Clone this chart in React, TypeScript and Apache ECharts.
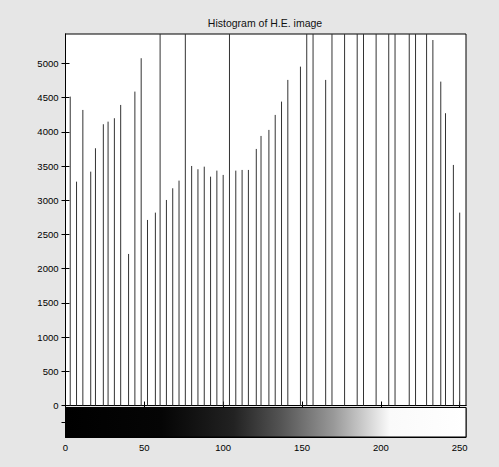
import React, { useEffect, useRef } from 'react';
import * as echarts from 'echarts';

const titleText = 'Histogram of H.E. image';

// gray levels present in the equalized image
const levels = [
  3, 7, 11, 16, 19, 24, 27, 31, 35, 40, 44, 48, 52, 57, 60, 64, 68, 72, 76, 80,
  84, 88, 92, 96, 100, 104, 108, 112, 116, 121, 124, 129, 133, 137, 141, 149, 153, 157, 165, 169,
  177, 185, 189, 197, 205, 209, 218, 222, 229, 233, 238, 241, 246, 250,
];

// pixel counts for each level (values above the axis top are clipped)
const counts = [
  4515, 3272, 4320, 3418, 3760, 4111, 4149, 4199, 4393, 2215, 4588, 5076, 2712, 2819, 6000, 3004, 3175, 3287, 6000, 3501,
  3453, 3491, 3345, 3433, 3370, 6000, 3433, 3443, 3443, 3750, 3940, 4028, 4247, 4442, 4759, 4953, 6000, 6000, 4759, 6000,
  6000, 6000, 6000, 6000, 6000, 6000, 6000, 6000, 6000, 5342, 4734, 4272, 3516, 2819,
];

const yTicks = [0, 500, 1000, 1500, 2000, 2500, 3000, 3500, 4000, 4500, 5000];
const xTicks = [0, 50, 100, 150, 200, 250];

const Y_MAX = 5430;
const X_MAX = 254;

export default function App() {
  const ref = useRef<HTMLDivElement>(null);

  useEffect(() => {
    if (!ref.current) return;
    const chart = echarts.init(ref.current, null, { renderer: 'svg' });
    const font = "'Liberation Sans', Arial, Helvetica, sans-serif";
    const tickStyle = { color: '#000', width: 1 };
    const plain = (v: number) => String(v);

    const option: any = {
      animation: false,
      backgroundColor: '#e6e6e6',
      textStyle: { fontFamily: font },
      graphic: [
        {
          type: 'text',
          x: 265,
          y: 23,
          style: {
            text: titleText,
            fontSize: 10.5,
            fontFamily: font,
            fill: '#111',
            textAlign: 'center',
            textVerticalAlign: 'middle',
          },
        },
      ],
      grid: [
        { left: 65.5, top: 34, width: 400.5, height: 371.5, show: true, backgroundColor: '#fff', borderColor: '#000', borderWidth: 1 },
        { left: 65.5, top: 407.5, width: 400.5, height: 29.5, show: true, backgroundColor: '#fff', borderColor: '#000', borderWidth: 1 },
      ],
      xAxis: [
        {
          type: 'value', gridIndex: 0, min: 0, max: X_MAX, position: 'bottom',
          axisLine: { show: true, lineStyle: tickStyle },
          axisTick: { show: true, inside: true, length: 4, customValues: xTicks, lineStyle: tickStyle },
          axisLabel: { show: false },
          splitLine: { show: false },
        },
        {
          type: 'value', gridIndex: 0, min: 0, max: X_MAX, position: 'top',
          axisLine: { show: true, lineStyle: tickStyle },
          axisTick: { show: true, inside: true, length: 4, customValues: xTicks, lineStyle: tickStyle },
          axisLabel: { show: false },
          splitLine: { show: false },
        },
        {
          type: 'value', gridIndex: 1, min: 0, max: X_MAX, position: 'bottom',
          axisLine: { show: true, lineStyle: tickStyle },
          axisTick: { show: true, inside: true, length: 4, customValues: xTicks, lineStyle: tickStyle },
          axisLabel: { show: true, customValues: xTicks, fontSize: 9.5, color: '#000', margin: 5, fontFamily: font, formatter: plain },
          splitLine: { show: false },
        },
      ],
      yAxis: [
        {
          type: 'value', gridIndex: 0, min: 0, max: Y_MAX, position: 'left',
          axisLine: { show: true, lineStyle: tickStyle },
          axisTick: { show: true, inside: true, length: 4, customValues: yTicks, lineStyle: tickStyle },
          axisLabel: { show: true, customValues: yTicks, fontSize: 9.5, color: '#000', margin: 7, fontFamily: font, formatter: plain },
          splitLine: { show: false },
        },
        {
          type: 'value', gridIndex: 0, min: 0, max: Y_MAX, position: 'right',
          axisLine: { show: true, lineStyle: tickStyle },
          axisTick: { show: true, inside: true, length: 4, customValues: yTicks, lineStyle: tickStyle },
          axisLabel: { show: false },
          splitLine: { show: false },
        },
        {
          type: 'value', gridIndex: 1, min: 0, max: 1, position: 'right',
          axisLine: { show: true, lineStyle: tickStyle },
          axisTick: { show: true, inside: true, length: 4, customValues: [0.5], lineStyle: tickStyle },
          axisLabel: { show: false },
          splitLine: { show: false },
        },
      ],
      series: [
        {
          type: 'custom',
          xAxisIndex: 0,
          yAxisIndex: 0,
          data: levels.map((l, i) => [l, counts[i]]),
          renderItem: (_params: any, api: any) => {
            const x = api.value(0);
            const y = Math.min(api.value(1), Y_MAX);
            const p0 = api.coord([x, 0]);
            const p1 = api.coord([x, y]);
            return {
              type: 'line',
              shape: { x1: p0[0], y1: p0[1], x2: p1[0], y2: p1[1] },
              style: { stroke: '#333', lineWidth: 1 },
            };
          },
          z: 3,
        },
        {
          type: 'custom',
          xAxisIndex: 2,
          yAxisIndex: 2,
          data: [[0, 1]],
          renderItem: (_params: any, api: any) => {
            const a = api.coord([0, 1]);
            const b = api.coord([X_MAX, 0]);
            return {
              type: 'rect',
              shape: { x: a[0], y: a[1], width: b[0] - a[0], height: b[1] - a[1] },
              style: {
                fill: new echarts.graphic.LinearGradient(0, 0, 1, 0, [
                  { offset: 0, color: '#000000' },
                  { offset: 0.24, color: '#050505' },
                  { offset: 0.42, color: '#222222' },
                  { offset: 0.54, color: '#555555' },
                  { offset: 0.67, color: '#999999' },
                  { offset: 0.75, color: '#d0d0d0' },
                  { offset: 0.81, color: '#fafafa' },
                  { offset: 1, color: '#ffffff' },
                ]),
                stroke: '#000',
                lineWidth: 1,
              },
            };
          },
          z: 1,
        },
      ],
    };

    chart.setOption(option);
    return () => chart.dispose();
  }, []);

  return (
    <div
      ref={ref}
      style={{ position: 'absolute', left: 0, top: 0, width: 499, height: 467 }}
    />
  );
}
